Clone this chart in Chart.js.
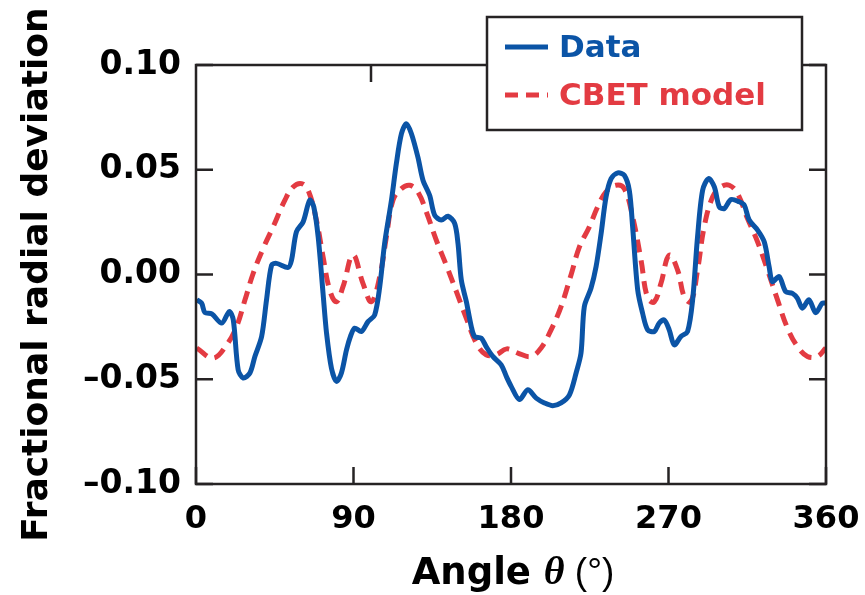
<!DOCTYPE html>
<html>
<head>
<meta charset="utf-8">
<script src="https://cdn.jsdelivr.net/npm/chart.js@4.4.1/dist/chart.umd.min.js"></script>
<style>
  html, body { margin: 0; padding: 0; background: #ffffff; }
  #wrap { width: 865px; height: 595px; }
</style>
</head>
<body>
<div id="wrap"><canvas id="graf_cbet" width="865" height="595"></canvas></div>
<script>
// angle (deg) / fractional radial deviation
const data_angles = [0.4, 3.2, 5.1, 9, 14.7, 19, 21.3, 24.1, 27, 30.8, 33.7, 37.5, 40.3, 43.2, 46, 52.7, 54.6, 57.4, 61.2, 65, 67.3, 69.8, 72.6, 74.6, 77.4, 80.3, 83.1, 86, 88.5, 90.7, 94.5, 98.3, 102.1, 105, 107.8, 111.7, 114.5, 117.4, 120.2, 123.1, 126.8, 129.7, 133.5, 136.4, 140.2, 144, 147.8, 149.7, 151.6, 154.5, 157.3, 159.2, 163, 165.8, 169.6, 174.4, 177.5, 180.1, 184.8, 189.6, 194.4, 199.1, 203.9, 208.6, 213.4, 217.2, 220, 221.9, 225.7, 228.6, 231.5, 234.3, 237.2, 241, 244.7, 247.6, 249.5, 252.4, 255.2, 258.1, 261.9, 264.7, 267.6, 270.4, 273.3, 277.1, 280.9, 283.8, 286.6, 289.5, 292.9, 296.2, 299, 301.9, 305.7, 310.4, 313.3, 316.1, 320.9, 324.7, 327.5, 329.4, 333.2, 337, 340.8, 343.6, 346.5, 350.3, 354.1, 357.9, 360];
const data_values = [-0.0121, -0.0137, -0.0182, -0.0188, -0.0232, -0.0177, -0.0217, -0.0455, -0.0494, -0.047, -0.039, -0.0296, -0.0121, 0.0045, 0.0053, 0.0034, 0.0069, 0.0204, 0.0251, 0.0355, 0.0323, 0.018, -0.009, -0.028, -0.0447, -0.051, -0.047, -0.036, -0.029, -0.0256, -0.0272, -0.0225, -0.0193, -0.0058, 0.0149, 0.0355, 0.053, 0.0672, 0.072, 0.0672, 0.056, 0.045, 0.0378, 0.0283, 0.026, 0.0278, 0.0244, 0.0149, -0.0026, -0.013, -0.0248, -0.0296, -0.0304, -0.0344, -0.0391, -0.0431, -0.049, -0.0534, -0.0597, -0.055, -0.059, -0.0613, -0.0626, -0.0613, -0.0574, -0.047, -0.0375, -0.0153, -0.0066, 0.0037, 0.0196, 0.037, 0.0458, 0.0485, 0.0474, 0.0402, 0.0228, -0.0074, -0.0185, -0.0264, -0.0272, -0.0232, -0.0217, -0.0264, -0.0336, -0.0296, -0.0272, -0.0121, 0.018, 0.0402, 0.0458, 0.0418, 0.0323, 0.0315, 0.0358, 0.0347, 0.0331, 0.026, 0.0212, 0.0156, 0.0037, -0.0034, -0.001, -0.0082, -0.009, -0.0113, -0.0161, -0.0121, -0.0182, -0.0137, -0.0137];

const model_angles = [0.4, 9.9, 17.5, 23.2, 28, 32.7, 38.4, 44.1, 50.8, 55.5, 60.3, 64.1, 68.8, 72.6, 76.4, 80.2, 84, 89.7, 95.4, 100.2, 105, 108.8, 112.6, 117.4, 122.1, 126.8, 131.6, 137.3, 143, 148.8, 154.5, 160.2, 165.8, 171.5, 177.5, 183.9, 191.5, 197.2, 202.9, 208.6, 214.3, 219.1, 224.8, 229.5, 234.3, 240, 244.7, 249.5, 254.3, 258.1, 261.9, 265.7, 270.4, 275.2, 279, 282.8, 286.6, 290.4, 295.2, 299.9, 304.7, 309.4, 315.1, 320.9, 326.6, 332.3, 338, 343.7, 349.4, 355.1, 359.9];
const model_values = [-0.0351, -0.0399, -0.0336, -0.0248, -0.0121, 0.0006, 0.0125, 0.0228, 0.0355, 0.0418, 0.0434, 0.0402, 0.026, 0.0085, -0.0074, -0.013, -0.0058, 0.0093, -0.0042, -0.013, -0.001, 0.018, 0.0355, 0.041, 0.0426, 0.0394, 0.0299, 0.0164, 0.0045, -0.0082, -0.0209, -0.0328, -0.0383, -0.0383, -0.0355, -0.0375, -0.0391, -0.0351, -0.0264, -0.0153, -0.0002, 0.0132, 0.0228, 0.0323, 0.0394, 0.0426, 0.041, 0.0275, 0.0069, -0.0113, -0.013, -0.0042, 0.0092, 0.0021, -0.0106, -0.013, 0.0021, 0.0228, 0.037, 0.0418, 0.0426, 0.0387, 0.0268, 0.0156, 0.0021, -0.0121, -0.0256, -0.0344, -0.0391, -0.0391, -0.0351];

const x_ticks = [0, 90, 180, 270, 360];
const x_top_ticks = [100, 200, 300];
const y_ticks = [-0.10, -0.05, 0.00, 0.05, 0.10];

const azul = '#0b54a6';
const rojo = '#e33b42';
const negro = '#262324';

function puntos(xs, ys) {
    return xs.map((x, i) => ({ x: x, y: ys[i] }));
}

function fmt_y(v) {
    const r = Math.round(v * 100) / 100;
    return (r < 0 ? '\u2013' : '') + Math.abs(r).toFixed(2);
}

// frame with inward ticks on all four sides
const marco = {
    id: 'marco',
    afterDatasetsDraw(chart) {
        const ctx = chart.ctx;
        const a = chart.chartArea;
        const sx = chart.scales.x, sy = chart.scales.y;
        const largo = 17;
        ctx.save();
        ctx.strokeStyle = negro;
        ctx.lineWidth = 2.5;
        ctx.strokeRect(a.left, a.top, a.right - a.left, a.bottom - a.top);
        ctx.beginPath();
        x_ticks.forEach(v => {
            const px = sx.getPixelForValue(v);
            ctx.moveTo(px, a.bottom);
            ctx.lineTo(px, a.bottom - largo);
        });
        x_top_ticks.forEach(v => {
            const px = sx.getPixelForValue(v);
            ctx.moveTo(px, a.top);
            ctx.lineTo(px, a.top + largo);
        });
        y_ticks.forEach(v => {
            const py = sy.getPixelForValue(v);
            ctx.moveTo(a.left, py);
            ctx.lineTo(a.left + largo, py);
            ctx.moveTo(a.right, py);
            ctx.lineTo(a.right - largo, py);
        });
        ctx.stroke();
        ctx.restore();
    },
    afterDraw(chart) {
        const ctx = chart.ctx;
        ctx.save();
        // boxed legend
        ctx.fillStyle = '#ffffff';
        ctx.fillRect(487, 17, 315, 113);
        ctx.strokeStyle = negro;
        ctx.lineWidth = 2.5;
        ctx.strokeRect(487, 17, 315, 113);
        const filas = [47, 95];
        chart.data.datasets.forEach((ds, i) => {
            const y = filas[i];
            ctx.strokeStyle = ds.borderColor;
            ctx.lineWidth = 5;
            ctx.setLineDash(ds.borderDash || []);
            ctx.beginPath();
            ctx.moveTo(505, y);
            ctx.lineTo(548, y);
            ctx.stroke();
            ctx.setLineDash([]);
            ctx.fillStyle = ds.borderColor;
            ctx.font = 'bold 31px "DejaVu Sans"';
            ctx.textAlign = 'left';
            ctx.textBaseline = 'middle';
            ctx.fillText(ds.label, 559, y + 2);
        });
        // x axis title, mixed fonts
        const partes = [
            { t: 'Angle ', f: 'bold 37px "DejaVu Sans"' },
            { t: '\u03B8', f: 'italic bold 40px "Liberation Serif"' },
            { t: ' (\u00B0)', f: '37px "Liberation Sans"' }
        ];
        let total = 0;
        partes.forEach(p => { ctx.font = p.f; p.w = ctx.measureText(p.t).width; total += p.w; });
        let x = 513 - total / 2;
        ctx.fillStyle = '#000000';
        ctx.textBaseline = 'alphabetic';
        partes.forEach(p => { ctx.font = p.f; ctx.fillText(p.t, x, 584); x += p.w; });
        ctx.restore();
    }
};

const cbet = document.getElementById("graf_cbet").getContext("2d");
const graf_cbet = new Chart(cbet, {
type: 'line',
data: {
datasets: [{
    label: 'Data',
    data: puntos(data_angles, data_values),
    borderColor: azul,
    backgroundColor: azul,
    borderWidth: 5,
    pointRadius: 0,
    tension: 0.3,
    order: 1
}, {
    label: 'CBET model',
    data: puntos(model_angles, model_values),
    borderColor: rojo,
    backgroundColor: rojo,
    borderWidth: 5,
    borderDash: [13, 8],
    pointRadius: 0,
    tension: 0.4,
    order: 2
}]
},
options: {
responsive: false,
animation: false,
layout: { padding: { top: 65, right: 39, left: 0, bottom: 0 } },
plugins: {
    legend: { display: false },
    tooltip: { enabled: false }
},
scales: {
    x: {
        type: 'linear',
        min: 0,
        max: 360,
        afterFit: s => { s.height = 111; s.paddingLeft = 0; s.paddingRight = 0; },
        afterBuildTicks: s => { s.ticks = x_ticks.map(v => ({ value: v })); },
        grid: { display: false, drawTicks: false },
        border: { display: false },
        ticks: {
            color: '#000000',
            padding: 16,
            maxRotation: 0,
            font: { family: 'DejaVu Sans', weight: 'bold', size: 32 }
        }
    },
    y: {
        min: -0.10,
        max: 0.10,
        afterFit: s => { s.width = 196; s.paddingTop = 0; s.paddingBottom = 0; },
        afterBuildTicks: s => { s.ticks = y_ticks.map(v => ({ value: v })); },
        grid: { display: false, drawTicks: false },
        border: { display: false },
        ticks: {
            color: '#000000',
            padding: 15,
            callback: v => fmt_y(v),
            font: { family: 'DejaVu Sans', weight: 'bold', size: 33 }
        },
        title: {
            display: true,
            text: 'Fractional radial deviation',
            color: '#000000',
            padding: { top: 16, bottom: 0 },
            font: { family: 'DejaVu Sans', weight: 'bold', size: 36 }
        }
    }
}
},
plugins: [marco]
}
);
</script>
</body>
</html>
